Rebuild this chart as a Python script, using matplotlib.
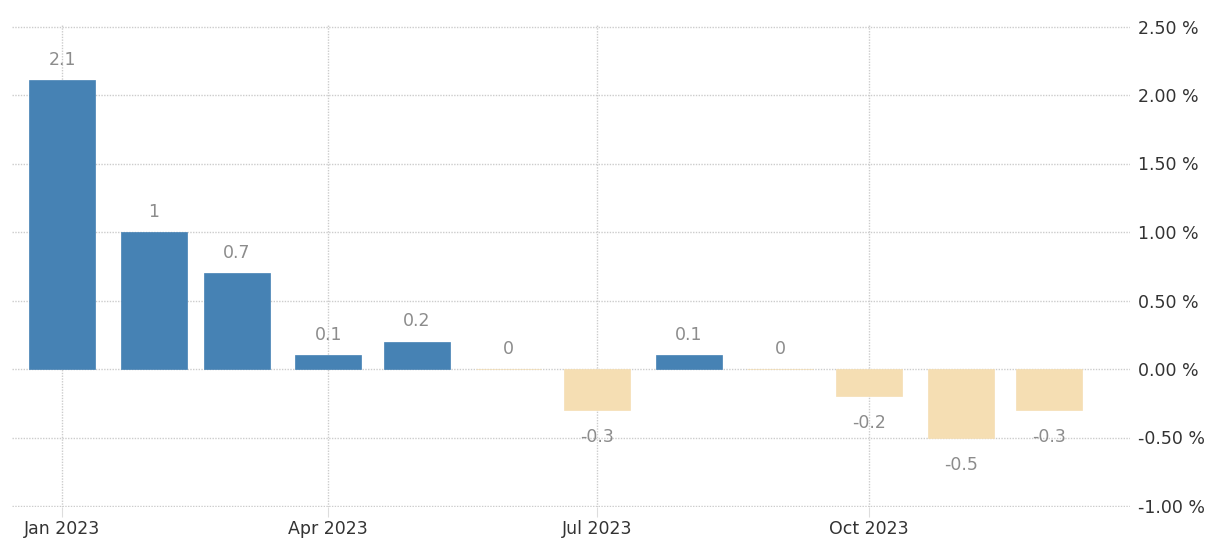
import matplotlib
matplotlib.use("Agg")
import matplotlib.pyplot as plt
import matplotlib.dates as mdates
import numpy as np
import datetime as dt

months = ["2023-01", "2023-02", "2023-03", "2023-04", "2023-05", "2023-06",
          "2023-07", "2023-08", "2023-09", "2023-10", "2023-11", "2023-12"]
values = [2.11, 1.0, 0.7, 0.1, 0.2, 0.0, -0.3, 0.1, 0.0, -0.2, -0.5, -0.3]
labels = ["2.1", "1", "0.7", "0.1", "0.2", "0", "-0.3", "0.1", "0", "-0.2", "-0.5", "-0.3"]
yticks = [-1.0, -0.5, 0.0, 0.5, 1.0, 1.5, 2.0, 2.5]
xtick_dates = ["2023-01", "2023-04", "2023-07", "2023-10"]

pos_color = "#4682b4"
neg_color = "#f5deb3"

dates = [dt.datetime.strptime(m, "%Y-%m") for m in months]
xd = mdates.date2num(dates)

fig = plt.figure(figsize=(12.06, 5.40), dpi=100)
ylo, yhi = -1.01, 2.52
ppu = 137.0
bottom_px = 506 + 0.01 * ppu
top_px = 26.5 - 0.02 * ppu
ax = fig.add_axes([12/1206, (540 - bottom_px)/540, (1130-12)/1206, (bottom_px - top_px)/540])

colors = [pos_color if v > 0 else neg_color for v in values]
ax.bar(xd, values, width=22.3, color=colors, edgecolor=colors, linewidth=0.5, zorder=3)

for x, v, lab in zip(xd, values, labels):
    if v < 0:
        ax.annotate(lab, (x, v), xytext=(0, -13), textcoords="offset points",
                    ha="center", va="top", color="#8c8c8c", fontsize=12.5, zorder=4)
    else:
        ax.annotate(lab, (x, v), xytext=(0, 8), textcoords="offset points",
                    ha="center", va="bottom", color="#8c8c8c", fontsize=12.5, zorder=4)

x0 = mdates.date2num(dt.datetime(2022, 12, 15))
x1 = mdates.date2num(dt.datetime(2023, 12, 28, 8))
ax.set_xlim(x0, x1)
ax.set_ylim(ylo, yhi)

ax.set_yticks(yticks)
ax.set_yticklabels([f"{t:.2f} %" for t in yticks])
ax.yaxis.tick_right()
ax.tick_params(axis="y", length=0, pad=6, labelsize=12.5, labelcolor="#333333")

xt = [mdates.date2num(dt.datetime.strptime(d, "%Y-%m")) for d in xtick_dates]
ax.set_xticks(xt)
ax.set_xticklabels([dt.datetime.strptime(d, "%Y-%m").strftime("%b %Y") for d in xtick_dates])
ax.tick_params(axis="x", length=7, color="#dddddd", pad=2, labelsize=12.5, labelcolor="#333333")

for s in ax.spines.values():
    s.set_visible(False)

ax.grid(True, axis="both", linestyle=(0, (1, 1)), color="#cccccc", linewidth=1, zorder=0)
ax.set_axisbelow(True)

fig.savefig("out.png", dpi=100, facecolor="white")
